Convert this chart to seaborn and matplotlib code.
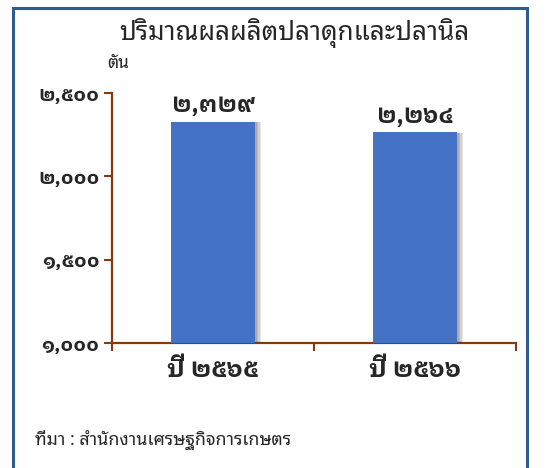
import matplotlib
matplotlib.use("Agg")
import matplotlib.pyplot as plt
import matplotlib.patheffects as pe
from matplotlib.patches import Rectangle
from matplotlib.ticker import FuncFormatter
import pandas as pd
import seaborn as sns

years = ['ปี ๒๕๖๕', 'ปี ๒๕๖๖']
tons = [2329, 2264]
yticks = [1000, 1500, 2000, 2500]

title = 'ปริมาณผลผลิตปลาดุกและปลานิล'
unit = 'ตัน'
source = 'ที่มา : สำนักงานเศรษฐกิจการเกษตร'

thai = str.maketrans('0123456789', '๐๑๒๓๔๕๖๗๘๙')
def th(v):
    return f'{int(v):,}'.translate(thai)

sns.set_theme(style='white')
plt.rcParams['font.family'] = ['Noto Sans Thai Looped', 'DejaVu Sans']
numfont = ['IBM Plex Sans Thai Looped', 'DejaVu Sans']

brown = '#843C0C'
df = pd.DataFrame({'year': years, 'tons': tons})

fig = plt.figure(figsize=(5.45, 4.68), dpi=100)
fig.patches.append(Rectangle((13/545, -0.05), 514/545, 1 - 8/468 + 0.05,
                             transform=fig.transFigure, fill=False,
                             edgecolor='#2E5C8E', linewidth=2.2))
ax = fig.add_axes([112/545, 1 - 343/468, 404/545, 250/468])

sns.barplot(data=df, x='year', y='tons', color='#4472C4', saturation=1,
            width=0.42, ax=ax, zorder=3)
shadow = [pe.SimplePatchShadow(offset=(d, -0.5), alpha=0.12,
                               shadow_rgbFace='#333333') for d in (4, 3, 2, 1)]
for bar in ax.patches:
    bar.set_path_effects(shadow + [pe.Normal()])
    bar.set_edgecolor('none')

for i, v in enumerate(tons):
    ax.annotate(th(v), (i, v), xytext=(0, 3), textcoords='offset points',
                ha='center', va='bottom', fontsize=17, fontweight='bold',
                family=numfont)

ax.set_ylim(1000, 2500)
ax.set_xlim(-0.5, 1.5)
ax.set_yticks(yticks)
ax.yaxis.set_major_formatter(FuncFormatter(lambda v, p: th(v)))
ax.set_xticks([-0.5, 0.5, 1.5])
ax.set_xticklabels([])
ax.set_xticks([0, 1], minor=True)
ax.set_xticklabels(years, minor=True, fontsize=18, fontweight='bold',
                   family=numfont)
ax.tick_params(axis='x', which='minor', bottom=False, length=0, pad=11)
ax.tick_params(axis='x', which='major', bottom=True, length=6, width=1.5,
               color=brown, direction='out')
ax.tick_params(axis='y', left=True, length=6, width=1.5, color=brown,
               direction='out', pad=3, labelsize=14.5)
for lab in ax.get_yticklabels():
    lab.set_fontweight('bold')
    lab.set_family(numfont)
ax.set_xlabel('')
ax.set_ylabel('')
for s in ['top', 'right']:
    ax.spines[s].set_visible(False)
for s in ['left', 'bottom']:
    ax.spines[s].set_color(brown)
    ax.spines[s].set_linewidth(1.6)
ax.set_facecolor('none')

fig.text(294/545, 1 - 33/468, title, ha='center', va='center', fontsize=18.7)
fig.text(107/545, 1 - 63/468, unit, ha='left', va='center', fontsize=12.5)
fig.text(35/545, 1 - 440/468, source, ha='left', va='center', fontsize=12.8)

fig.savefig('out.png', dpi=100)
